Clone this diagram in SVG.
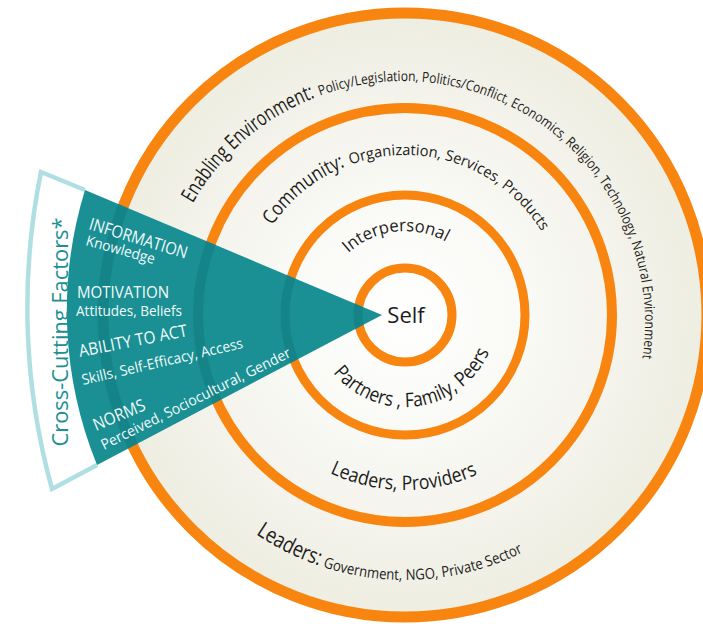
<svg xmlns="http://www.w3.org/2000/svg" width="703" height="624" viewBox="0 0 703 624">
<style>
.ring{fill:none;stroke:#f7850f}
.uring{fill:none;stroke:#127a7e;opacity:0.55}
.lbl{font-family:"Open Sans","Liberation Sans",sans-serif;fill:#1c1c1c}
.wt{font-family:"Open Sans","Liberation Sans",sans-serif;fill:#f2fafa}
</style>
<defs>
<radialGradient id="disc" cx="405" cy="315" r="308" gradientUnits="userSpaceOnUse">
<stop offset="0" stop-color="#ffffff"/>
<stop offset="0.4" stop-color="#f9f9f5"/>
<stop offset="0.75" stop-color="#f3f2ea"/>
<stop offset="1" stop-color="#eeede0"/>
</radialGradient>
<clipPath id="wedgeClip"><path d="M382 315 L85 190 A410 410 0 0 0 97 465 Z"/></clipPath>
<path id="p-env" d="M185.8 216.4 A242 242 0 0 1 638.8 377.6"/>
<path id="p-com" d="M260 247.4 A160 160 0 0 1 555.4 260.3"/>
<path id="p-int" d="M326.1 286.3 A84 84 0 0 1 469.3 261"/>
<path id="p-par" d="M318.5 346.5 A92 92 0 0 0 495.6 331"/>
<path id="p-lp" d="M292.5 449.1 A175 175 0 0 0 517.5 449.1"/>
<path id="p-lg" d="M234.7 518 A265 265 0 0 0 575.3 518"/>
</defs>
<rect width="703" height="624" fill="#ffffff"/>

<g id="enabling-environment">
<circle cx="405" cy="315" r="302" fill="url(#disc)"/>
<circle class="ring" cx="405" cy="315" r="302" stroke-width="11"/>
<text class="lbl" font-size="21"><textPath href="#p-env" startOffset="14.7" textLength="165" lengthAdjust="spacingAndGlyphs">Enabling Environment:</textPath></text>
<text class="lbl" font-size="14"><textPath href="#p-env" startOffset="185" textLength="500" lengthAdjust="spacingAndGlyphs">Policy/Legislation, Politics/Conflict, Economics, Religion, Technology, Natural Environment</textPath></text>
<text class="lbl" font-size="22"><textPath href="#p-lg" startOffset="26.4" textLength="71" lengthAdjust="spacingAndGlyphs">Leaders:</textPath></text>
<text class="lbl" font-size="15"><textPath href="#p-lg" startOffset="101.3" textLength="206" lengthAdjust="spacingAndGlyphs">Government, NGO, Private Sector</textPath></text>
</g>

<g id="community">
<circle class="ring" cx="405" cy="315" r="207" stroke-width="10"/>
<text class="lbl" font-size="20"><textPath href="#p-com" startOffset="25.1" textLength="95" lengthAdjust="spacingAndGlyphs">Community:</textPath></text>
<text class="lbl" font-size="15"><textPath href="#p-com" startOffset="125.7" textLength="219" lengthAdjust="spacingAndGlyphs">Organization, Services, Products</textPath></text>
<text class="lbl" font-size="20"><textPath href="#p-lp" startOffset="44.3" textLength="152.7" lengthAdjust="spacingAndGlyphs">Leaders, Providers</textPath></text>
</g>

<g id="interpersonal">
<circle class="ring" cx="405" cy="315" r="120" stroke-width="9"/>
<text class="lbl" font-size="17"><textPath href="#p-int" startOffset="40.3" textLength="104.8" lengthAdjust="spacingAndGlyphs">Interpersonal</textPath></text>
<text class="lbl" font-size="20"><textPath href="#p-par" startOffset="30" textLength="189" lengthAdjust="spacingAndGlyphs">Partners , Family, Peers</textPath></text>
</g>

<g id="self">
<circle class="ring" cx="405" cy="315" r="47" stroke-width="9"/>
<text class="lbl" x="406" y="323" font-size="22" text-anchor="middle">Self</text>
</g>

<g id="cross-cutting-factors">
<path d="M85 190 L41 172 A680 680 0 0 0 52 489 L97 465 A410 410 0 0 1 85 190 Z" fill="#ffffff"/>
<path d="M85 190 L41 172 A680 680 0 0 0 52 489 L97 465" fill="none" stroke="#b0dfe3" stroke-width="4.5" stroke-linejoin="miter"/>
<path d="M382 315 L85 190 A410 410 0 0 0 97 465 Z" fill="#1a9094"/>
<g clip-path="url(#wedgeClip)">
<circle class="uring" cx="405" cy="315" r="302" stroke-width="11"/>
<circle class="uring" cx="405" cy="315" r="207" stroke-width="10"/>
<circle class="uring" cx="405" cy="315" r="120" stroke-width="9"/>
<circle class="uring" cx="405" cy="315" r="47" stroke-width="9"/>
</g>
<text transform="translate(68,332) rotate(-90)" font-family="Open Sans, Liberation Sans, sans-serif" font-size="22" fill="#1a9094" text-anchor="middle" textLength="229" lengthAdjust="spacingAndGlyphs">Cross-Cutting Factors*</text>
<text class="wt" transform="translate(88,229) rotate(17)" font-size="17" textLength="102" lengthAdjust="spacingAndGlyphs">INFORMATION</text>
<text class="wt" transform="translate(85,245) rotate(15.5)" font-size="14.5" textLength="71" lengthAdjust="spacingAndGlyphs">Knowledge</text>
<text class="wt" x="77" y="298" font-size="17" textLength="92" lengthAdjust="spacingAndGlyphs">MOTIVATION</text>
<text class="wt" x="76" y="316" font-size="14.5" textLength="106" lengthAdjust="spacingAndGlyphs">Attitudes, Beliefs</text>
<text class="wt" transform="translate(80,357) rotate(-11)" font-size="17" textLength="110" lengthAdjust="spacingAndGlyphs">ABILITY TO ACT</text>
<text class="wt" transform="translate(83,385) rotate(-13)" font-size="14.5" textLength="165" lengthAdjust="spacingAndGlyphs">Skills, Self-Efficacy, Access</text>
<text class="wt" transform="translate(96,431) rotate(-23)" font-size="17" textLength="55" lengthAdjust="spacingAndGlyphs">NORMS</text>
<text class="wt" transform="translate(104,450) rotate(-26.5)" font-size="14.5" textLength="210" lengthAdjust="spacingAndGlyphs">Perceived, Sociocultural, Gender</text>
</g>
</svg>
